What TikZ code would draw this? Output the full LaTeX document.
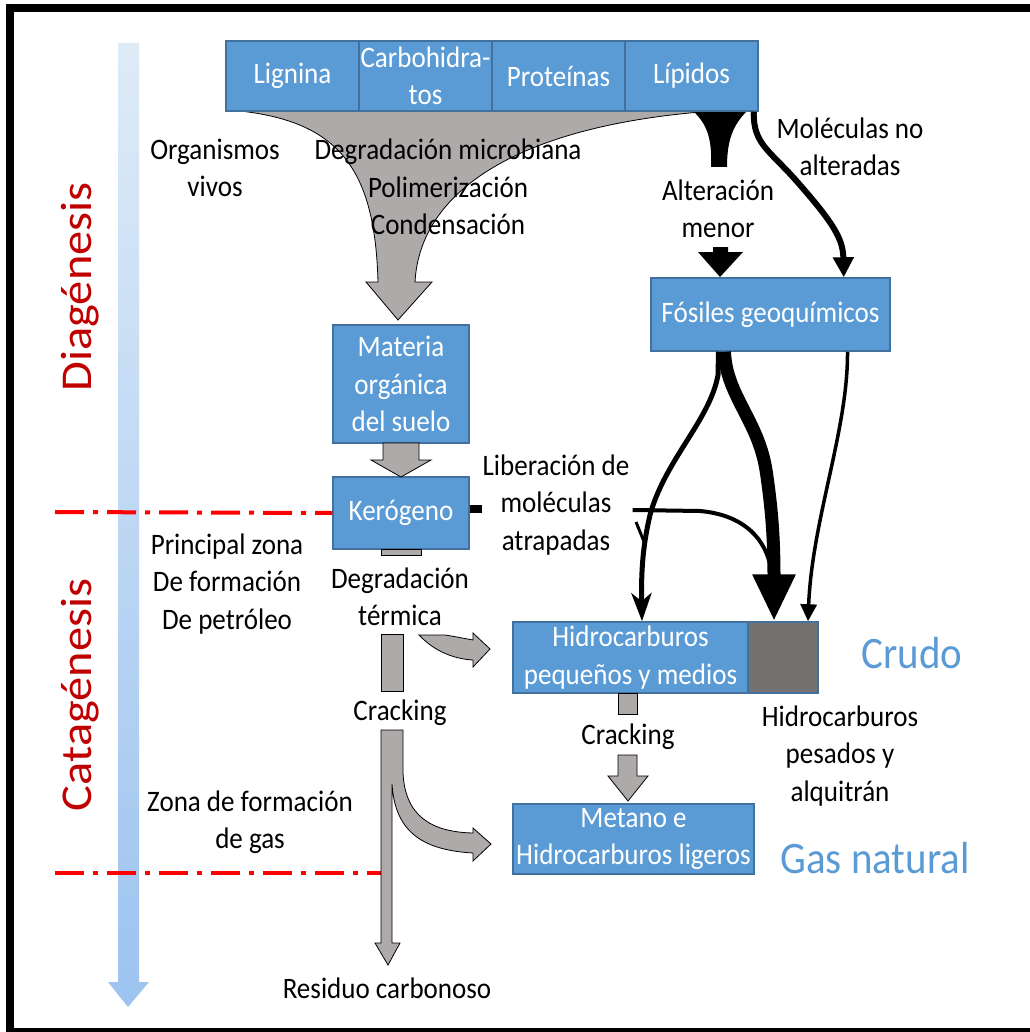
\documentclass[tikz,border=0pt]{standalone}
\usepackage{fontspec}
\setmainfont{Carlito}[FakeStretch=0.91]
\newfontfamily\stagefont{Carlito}[FakeStretch=1.1]
\usetikzlibrary{arrows.meta,calc}
\definecolor{boxblue}{RGB}{91,155,213}
\definecolor{boxline}{RGB}{65,113,156}
\definecolor{grayfill}{RGB}{174,170,170}
\definecolor{heavygray}{RGB}{118,113,113}
\definecolor{stagered}{RGB}{192,0,0}
\definecolor{scaletop}{RGB}{222,235,247}
\definecolor{scalebot}{RGB}{157,195,240}
\newcommand{\txtsize}{\fontsize{29.7}{37.5}\selectfont}

\begin{document}
\begin{tikzpicture}[x=1pt, y=-1pt,
  box/.style={draw=boxline, fill=boxblue, line width=1.5pt, text=white, font=\txtsize, align=center, inner sep=0pt},
  lbl/.style={font=\txtsize, align=center, inner sep=0pt},
  blockarrow/.style={fill=grayfill, draw=black, line width=0.8pt},
  zone/.style={draw=red, line width=4pt, dash pattern=on 29pt off 9pt on 5pt off 9pt},
  stage/.style={font=\stagefont\fontsize{44}{48}\selectfont, text=stagered, rotate=90, inner sep=0pt},
  product/.style={font=\fontsize{45}{48}\selectfont, text=boxblue, inner sep=0pt}]

    \useasboundingbox (0,0) rectangle (1029,1032);
    \fill[white] (0,0) rectangle (1029,1032);
    \draw[line width=8pt] (1100,8) -- (10,8) -- (10,1032) -- (1100,1032);

    % time scale
    \shade[top color=scaletop, bottom color=scalebot] (118,43) -- (139,43) -- (139,982) -- (149,982) -- (128,1007) -- (108,982) -- (118,982) -- cycle;
    \node[stage] (diag) at (80,287) {Diagénesis};
    \node[stage] (catag) at (80,695) {Catagénesis};

    % funnel of degradation
    \draw[blockarrow] (240,111) .. controls (340,122) and (375,170) .. (378,282) -- (366,282) -- (398,320) -- (432,282) -- (415,282) .. controls (420,190) and (520,125) .. (713,111) -- cycle;
    \fill (693,111) .. controls (708,125) and (712,140) .. (711,167) -- (727,167) .. controls (727,140) and (733,125) .. (747,111) -- cycle;
    \fill (713,247) -- (728,247) -- (728,252) -- (743,252) -- (720,277) -- (698,252) -- (713,252) -- cycle;

    % boxes
    \node[box, minimum width=133pt, minimum height=70pt] (lig) at (292.5,76) {Lignina};
    \node[box, minimum width=133pt, minimum height=70pt] (carb) at (425.5,76) {Carbohidra-\\tos};
    \node[box, minimum width=133pt, minimum height=70pt] (prot) at (558.5,76) {Proteínas};
    \node[box, minimum width=133pt, minimum height=70pt] (lip) at (691.5,76) {Lípidos};
    \node[box, minimum width=239pt, minimum height=73pt] (fos) at (770.5,314.5) {Fósiles geoquímicos};
    \node[box, minimum width=136pt, minimum height=118pt] (mat) at (401,384) {Materia\\orgánica\\del suelo};
    \node[box, minimum width=136pt, minimum height=72pt] (kero) at (401,513) {Kerógeno};
    \node[box, minimum width=235pt, minimum height=71pt] (hidro) at (630.5,657.5) {Hidrocarburos\\pequeños y medios};
    \node[box, fill=heavygray, minimum width=70pt, minimum height=71pt] (heavy) at (783,657.5) {};
    \node[box, minimum width=241pt, minimum height=70pt] (gas) at (633.5,839) {Metano e\\Hidrocarburos ligeros};

    % labels
    \node[lbl] (org) at (215,168) {Organismos\\vivos};
    \node[lbl] (degr) at (448,187) {Degradación microbiana\\Polimerización\\Condensación};
    \node[lbl] (noalt) at (850,147) {Moléculas no\\alteradas};
    \node[lbl] (alter) at (718,209) {Alteración\\menor};
    \node[lbl] (liber) at (556,505) {Liberación de\\moléculas\\atrapadas};
    \node[lbl] (oilzone) at (227,584) {Principal zona\\De formación\\De petróleo};
    \node[lbl] (degterm) at (400,597) {Degradación\\térmica};
    \node[lbl] (crackA) at (400,713) {Cracking};
    \node[lbl] (crackB) at (628,737) {Cracking};
    \node[lbl] (pesados) at (840,756) {Hidrocarburos\\pesados y\\alquitrán};
    \node[lbl] (gaszone) at (250,822) {Zona de formación\\de gas};
    \node[lbl] (residuo) at (387,988) {Residuo carbonoso};
    \node[product] (crudo) at (912,653) {Crudo};
    \node[product] (natgas) at (875,858) {Gas natural};

    % zone limits
    \coordinate (zA) at (55,512);
    \coordinate (zB) at (55,873);
    \coordinate (zBend) at (381,873);
    \draw[zone] (zA) -- (kero.west);
    \draw[zone] (zB) -- (zBend);

    % gray flows
    \draw[blockarrow] (383,443) -- (419,443) -- (419,460) -- (431,460) -- (401,477) -- (371,460) -- (383,460) -- cycle;
    \draw[blockarrow] (381,549) rectangle (421,555);
    \draw[blockarrow] (381,634) rectangle (403,691);
    \draw[blockarrow] (419,635) .. controls (435,652) and (455,659) .. (473,660) -- (473,667) -- (490,649) -- (473,633) -- (473,640) .. controls (462,638) and (452,636) .. (445,635) -- cycle;
    \draw[blockarrow] (381,730) -- (403,730) -- (403,773) .. controls (405,815) and (430,832) .. (473,833) -- (473,828) -- (491,844) -- (473,861) -- (473,853) .. controls (420,850) and (395,830) .. (392,784) -- (392,943) -- (400,943) -- (388,965) -- (375,943) -- (381,943) -- cycle;
    \draw[blockarrow] (618,693) rectangle (637,714);
    \draw[blockarrow] (618,755) -- (637,755) -- (637,776) -- (648,776) -- (628,801) -- (608,776) -- (618,776) -- cycle;

    % black flows
    \draw[line width=6pt, -{Triangle[length=20pt,width=20pt]}] ($(lip.south east)+(-5,0)$) .. controls (753,145) and (770,150) .. (800,185) .. controls (835,225) and (843,240) .. ($(fos.north east)+(-47,0)$);
    \draw[line width=5pt, -{Stealth[length=28pt,width=20pt,inset=8pt]}] ($(fos.south)+(-52,0)$) -- (718,375) .. controls (710,420) and (665,460) .. (650,515) .. controls (643,545) and (641,570) .. ($(hidro.north)+(11.5,0)$);
    \draw[line width=3pt] (636,522) -- (645,544);
    \draw[line width=13pt, -{Triangle[length=47pt,width=40pt]}] ($(fos.south)+(-46,0)$) .. controls (726,395) and (758,420) .. (766,470) .. controls (772,510) and (774,540) .. ($(heavy.north)+(-9,0)$);
    \draw[line width=3.5pt, -{Triangle[length=17pt,width=16pt]}] ($(fos.south)+(77,0)$) .. controls (848,430) and (812,520) .. ($(heavy.north)+(25,0)$);
    \draw[line width=8pt] ($(kero.east)+(0,-4)$) -- ++(12,0);
    \draw[line width=4pt] ($(liber.east)+(3,5)$) -- (700,511) .. controls (745,515) and (768,540) .. (772,575);
\end{tikzpicture}
\end{document}
